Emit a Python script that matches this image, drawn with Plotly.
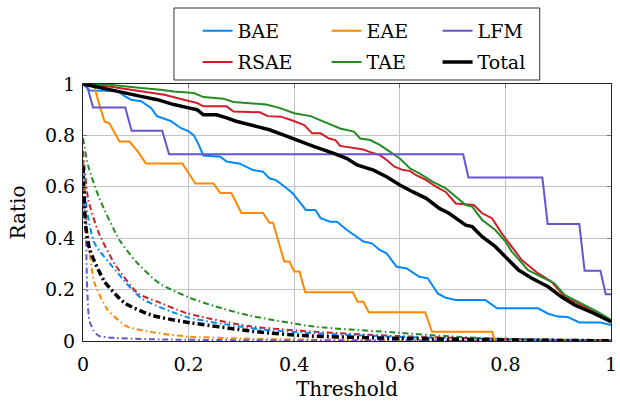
import plotly.graph_objects as go

# ---------------- data ----------------
bae_x = [0, 0.013, 0.066, 0.079, 0.091, 0.11, 0.129, 0.14, 0.166, 0.185, 0.2, 0.21, 0.219, 0.228, 0.26, 0.272,
         0.297, 0.322, 0.341, 0.353, 0.365, 0.378, 0.397, 0.41, 0.422, 0.44, 0.45, 0.468, 0.481, 0.5, 0.519,
         0.531, 0.547, 0.562, 0.575, 0.587, 0.594, 0.612, 0.637, 0.653, 0.672, 0.687, 0.706, 0.762, 0.784,
         0.862, 0.88, 0.899, 0.918, 0.94, 0.98, 1.0]
bae_y = [1.0, 0.975, 0.973, 0.953, 0.939, 0.933, 0.907, 0.875, 0.856, 0.829, 0.816, 0.80, 0.764, 0.722, 0.717,
         0.698, 0.69, 0.665, 0.659, 0.633, 0.626, 0.607, 0.575, 0.54, 0.51, 0.51, 0.478, 0.464, 0.464, 0.432,
         0.406, 0.387, 0.38, 0.354, 0.341, 0.309, 0.289, 0.283, 0.25, 0.244, 0.185, 0.168, 0.16, 0.16, 0.127,
         0.127, 0.107, 0.095, 0.093, 0.072, 0.072, 0.062]

eae_x = [0, 0.02, 0.032, 0.041, 0.05, 0.069, 0.088, 0.104, 0.119, 0.188, 0.213, 0.247, 0.26, 0.281, 0.3,
         0.341, 0.353, 0.36, 0.381, 0.391, 0.4, 0.41, 0.421, 0.511, 0.52, 0.531, 0.541, 0.648, 0.661, 0.775, 0.78]
eae_y = [1.0, 1.0, 0.912, 0.853, 0.847, 0.776, 0.776, 0.737, 0.691, 0.691, 0.613, 0.613, 0.576, 0.576, 0.498,
         0.498, 0.46, 0.46, 0.309, 0.309, 0.27, 0.27, 0.19, 0.19, 0.153, 0.153, 0.112, 0.112, 0.036, 0.036, 0.0]

lfm_x = [0, 0.008, 0.019, 0.08, 0.092, 0.15, 0.163, 0.72, 0.73, 0.87, 0.88, 0.94, 0.95, 0.98, 0.99, 1.0]
lfm_y = [1.0, 0.99, 0.909, 0.909, 0.818, 0.818, 0.727, 0.727, 0.636, 0.636, 0.455, 0.455, 0.273, 0.273, 0.182, 0.182]

rsae_x = [0, 0.05, 0.1, 0.154, 0.191, 0.216, 0.228, 0.272, 0.285, 0.335, 0.35, 0.375, 0.394, 0.419, 0.434,
          0.45, 0.466, 0.478, 0.487, 0.5, 0.519, 0.531, 0.541, 0.562, 0.575, 0.59, 0.606, 0.619, 0.631, 0.65,
          0.669, 0.687, 0.706, 0.74, 0.756, 0.775, 0.793, 0.812, 0.831, 0.862, 0.887, 0.912, 0.937, 0.968, 1.0]
rsae_y = [1.0, 0.99, 0.975, 0.958, 0.939, 0.926, 0.913, 0.913, 0.893, 0.89, 0.875, 0.873, 0.86, 0.84, 0.808,
          0.808, 0.788, 0.782, 0.759, 0.755, 0.749, 0.745, 0.737, 0.724, 0.704, 0.678, 0.665, 0.662, 0.645, 0.626,
          0.6, 0.58, 0.535, 0.529, 0.497, 0.477, 0.419, 0.367, 0.315, 0.263, 0.231, 0.172, 0.146, 0.114, 0.075]

tae_x = [0, 0.047, 0.11, 0.147, 0.172, 0.2, 0.21, 0.228, 0.266, 0.285, 0.347, 0.372, 0.4, 0.431, 0.456,
         0.487, 0.513, 0.525, 0.544, 0.562, 0.581, 0.6, 0.619, 0.637, 0.662, 0.687, 0.725, 0.737, 0.756,
         0.781, 0.8, 0.812, 0.843, 0.862, 0.893, 0.912, 0.943, 0.974, 1.0]
tae_y = [1.0, 0.998, 0.984, 0.978, 0.971, 0.966, 0.965, 0.949, 0.943, 0.93, 0.92, 0.907, 0.886, 0.875, 0.853,
         0.827, 0.815, 0.788, 0.782, 0.763, 0.737, 0.71, 0.672, 0.652, 0.62, 0.594, 0.529, 0.523, 0.471,
         0.432, 0.387, 0.348, 0.276, 0.257, 0.224, 0.179, 0.146, 0.114, 0.082]

total_x = [0, 0.047, 0.079, 0.11, 0.141, 0.172, 0.2, 0.216, 0.228, 0.253, 0.272, 0.29, 0.328, 0.353, 0.378,
           0.403, 0.416, 0.438, 0.475, 0.5, 0.519, 0.55, 0.575, 0.6, 0.625, 0.65, 0.675, 0.693, 0.725, 0.737,
           0.756, 0.781, 0.806, 0.825, 0.85, 0.881, 0.906, 0.931, 0.968, 1.0]
total_y = [1.0, 0.978, 0.965, 0.952, 0.939, 0.92, 0.907, 0.9, 0.88, 0.88, 0.868, 0.855, 0.835, 0.822, 0.803,
           0.783, 0.77, 0.756, 0.73, 0.71, 0.685, 0.665, 0.639, 0.607, 0.58, 0.555, 0.516, 0.497, 0.451, 0.445,
           0.406, 0.367, 0.315, 0.276, 0.244, 0.211, 0.172, 0.14, 0.107, 0.075]

# dash-dot (second family) curves
bae_d_x = [0, 0.008, 0.022, 0.066, 0.11, 0.197, 0.33, 0.44, 0.6, 0.8, 1.0]
bae_d_y = [0.70, 0.50, 0.38, 0.264, 0.167, 0.093, 0.047, 0.030, 0.016, 0.007, 0.002]

eae_d_x = [0, 0.005, 0.01, 0.022, 0.047, 0.084, 0.14, 0.2, 0.3, 0.4, 0.6, 0.8, 1.0]
eae_d_y = [0.65, 0.50, 0.38, 0.225, 0.12, 0.056, 0.031, 0.017, 0.010, 0.006, 0.003, 0.001, 0.0]

lfm_d_x = [0, 0.005, 0.008, 0.012, 0.02, 0.03, 0.06, 0.15, 0.3, 0.5, 1.0]
lfm_d_y = [0.60, 0.45, 0.20, 0.08, 0.04, 0.02, 0.012, 0.006, 0.003, 0.001, 0.0]

rsae_d_x = [0, 0.01, 0.029, 0.06, 0.104, 0.141, 0.197, 0.313, 0.438, 0.6, 0.8, 1.0]
rsae_d_y = [0.74, 0.55, 0.425, 0.30, 0.185, 0.153, 0.108, 0.058, 0.036, 0.019, 0.008, 0.003]

tae_d_x = [0, 0.01, 0.032, 0.069, 0.1, 0.144, 0.2, 0.25, 0.313, 0.438, 0.6, 0.687, 0.775, 0.9, 1.0]
tae_d_y = [0.79, 0.68, 0.55, 0.393, 0.31, 0.225, 0.17, 0.135, 0.10, 0.056, 0.032, 0.019, 0.010, 0.004, 0.002]

total_d_x = [0, 0.005, 0.013, 0.041, 0.079, 0.129, 0.191, 0.33, 0.425, 0.6, 0.8, 1.0]
total_d_y = [0.68, 0.45, 0.354, 0.231, 0.148, 0.101, 0.075, 0.036, 0.020, 0.010, 0.004, 0.001]

tick_vals = [0, 0.2, 0.4, 0.6, 0.8, 1.0]
tick_text = ["0", "0.2", "0.4", "0.6", "0.8", "1"]

# ---------------- styling ----------------
C_BLUE = "rgb(0,136,255)"
C_ORANGE = "rgb(255,136,0)"
C_PURPLE = "rgb(102,84,210)"
C_RED = "rgb(212,28,40)"
C_GREEN = "rgb(34,140,34)"
C_BLACK = "black"
FONT = "DejaVu Serif"
FS_TICK = 19
FS_TITLE = 20
FS_LEG = 19
DD = "6px,3px,1.5px,3px"
DD_B = "7px,3px,2px,3px"

fig = go.Figure()

def dd(x, y, color, w, dash):
    fig.add_trace(go.Scatter(x=x, y=y, mode="lines", showlegend=False, hoverinfo="skip",
                             line=dict(color=color, width=w, dash=dash, shape="spline", smoothing=0.6)))

dd(tae_d_x, tae_d_y, C_GREEN, 2, DD)
dd(rsae_d_x, rsae_d_y, C_RED, 2, DD)
dd(bae_d_x, bae_d_y, C_BLUE, 2, DD)
dd(eae_d_x, eae_d_y, C_ORANGE, 2, DD)
dd(lfm_d_x, lfm_d_y, C_PURPLE, 2, DD)
dd(total_d_x, total_d_y, C_BLACK, 3.5, DD_B)

def solid(x, y, name, color, w, legend, lw):
    fig.add_trace(go.Scatter(x=x, y=y, mode="lines", name=name, legend=legend, legendwidth=lw,
                             line=dict(color=color, width=w)))

solid(bae_x, bae_y, "BAE", C_BLUE, 2, "legend", 84)
solid(eae_x, eae_y, "EAE", C_ORANGE, 2, "legend", 66)
solid(rsae_x, rsae_y, "RSAE", C_RED, 2, "legend2", 84)
solid(tae_x, tae_y, "TAE", C_GREEN, 2, "legend2", 66)
solid(lfm_x, lfm_y, "LFM", C_PURPLE, 2, "legend", 60)
solid(total_x, total_y, "Total", C_BLACK, 3.5, "legend2", 60)

axis_common = dict(
    range=[0, 1], tickvals=tick_vals, ticktext=tick_text,
    showgrid=True, gridcolor="#c4c4c4", gridwidth=1,
    showline=True, linecolor="#222", linewidth=1, mirror="ticks",
    ticks="inside", ticklen=4, tickcolor="#777",
    zeroline=False, tickfont=dict(family=FONT, size=FS_TICK, color="black"),
    ticklabeloverflow="allow",
)

leg_common = dict(orientation="h", xanchor="left", yanchor="middle", bgcolor="rgba(0,0,0,0)",
                  font=dict(family=FONT, size=FS_LEG, color="black"), entrywidthmode="pixels",
                  itemclick=False, itemdoubleclick=False, tracegroupgap=0)

fig.update_layout(
    width=620, height=405,
    font=dict(family=FONT),
    margin=dict(l=83, r=3, t=84, b=64),
    paper_bgcolor="white", plot_bgcolor="white",
    xaxis=dict(axis_common, ticklabelstandoff=6,
               title=dict(text="Threshold", font=dict(family=FONT, size=FS_TITLE, color="black"), standoff=8)),
    yaxis=dict(axis_common, ticklabelstandoff=3,
               title=dict(text="Ratio", font=dict(family=FONT, size=FS_TITLE, color="black"), standoff=13)),
    legend=dict(leg_common, x=0.217, y=1.207),
    legend2=dict(leg_common, x=0.217, y=1.085),
    shapes=[dict(type="rect", xref="paper", yref="paper", x0=0.1723, x1=0.865, y0=1.0156, y1=1.2957,
                 line=dict(color="#333", width=1), fillcolor="white", layer="below")],
)

fig.write_html("out.html")
